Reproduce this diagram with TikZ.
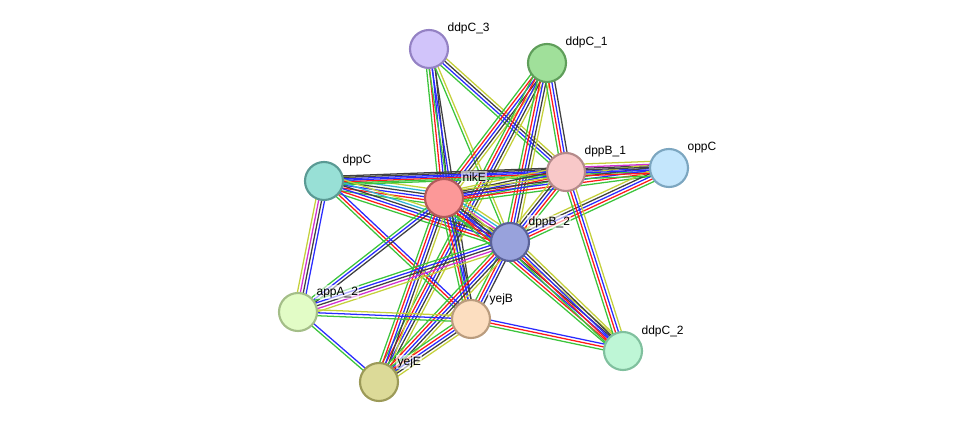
\documentclass[tikz,border=0pt]{standalone}
\usepackage{fontspec}
\setmainfont{Liberation Sans}
\usepackage{tikz}
\usetikzlibrary{calc,backgrounds}
% evidence colours
\definecolor{neigh}{HTML}{3CC43C}
\definecolor{fusion}{HTML}{FF1A1A}
\definecolor{cooc}{HTML}{2A2AFF}
\definecolor{coexp}{HTML}{404040}
\definecolor{exper}{HTML}{D030D0}
\definecolor{dbase}{HTML}{30B4D8}
\definecolor{tmine}{HTML}{C4D03A}
% protein colours
\definecolor{fddpCthree}{HTML}{D1C4FA}\definecolor{bddpCthree}{HTML}{9482C4}
\definecolor{fddpCone}{HTML}{A0E09A}\definecolor{bddpCone}{HTML}{5F9E5A}
\definecolor{fdppC}{HTML}{98E0D6}\definecolor{bdppC}{HTML}{5A9A94}
\definecolor{fnikE}{HTML}{FC9898}\definecolor{bnikE}{HTML}{B25A5A}
\definecolor{fdppBone}{HTML}{F8C8C8}\definecolor{bdppBone}{HTML}{B48A8A}
\definecolor{foppC}{HTML}{C4E6FC}\definecolor{boppC}{HTML}{7CA6C0}
\definecolor{fdppBtwo}{HTML}{98A2DC}\definecolor{bdppBtwo}{HTML}{5A6298}
\definecolor{fappA}{HTML}{E2FCC6}\definecolor{bappA}{HTML}{A4BE88}
\definecolor{fyejB}{HTML}{FCDEC0}\definecolor{byejB}{HTML}{BA9C7E}
\definecolor{fddpCtwo}{HTML}{BEF6D6}\definecolor{bddpCtwo}{HTML}{80C09E}
\definecolor{fyejE}{HTML}{DCDA98}\definecolor{byejE}{HTML}{9C9A58}
\tikzset{
  protnode/.style 2 args={
    circle, draw=#2, fill=#1, line width=1.6pt,
    minimum size=28.5pt, inner sep=0pt
  },
  protlabel/.style={
    anchor=base west, font=\fontsize{9}{10}\selectfont,
    fill=white, fill opacity=0.6, text opacity=1, inner sep=1pt
  },
  evline/.style={draw=#1, line width=0.95pt},
}
% one bundle of parallel evidence lines between two proteins
\newcommand{\evsep}{2.2}
\newcommand{\evidence}[3]{%
  \foreach \c [count=\k] in {#3}{\xdef\nev{\k}}%
  \foreach \c [count=\k] in {#3}{%
    \pgfmathsetmacro\off{(\k-(\nev+1)/2)*\evsep}%
    \draw[evline=\c] ($(#1)!\off pt!90:(#2)$) -- ($(#2)!\off pt!-90:(#1)$);
  }%
}

\begin{document}
\begin{tikzpicture}[x=0.75pt,y=-0.75pt]
\useasboundingbox (0,0) rectangle (976,428);

% proteins
\node[protnode={fddpCthree}{bddpCthree}] (ddpC3) at (429,49) {};
\node[protnode={fddpCone}{bddpCone}] (ddpC1) at (547,63) {};
\node[protnode={fdppC}{bdppC}] (dppC) at (324,181) {};
\node[protnode={fnikE}{bnikE}] (nikE) at (444,198) {};
\node[protnode={fdppBone}{bdppBone}] (dppB1) at (566,172) {};
\node[protnode={foppC}{boppC}] (oppC) at (669,168) {};
\node[protnode={fdppBtwo}{bdppBtwo}] (dppB2) at (510,242) {};
\node[protnode={fappA}{bappA}] (appA2) at (298,312) {};
\node[protnode={fyejB}{byejB}] (yejB) at (471,319) {};
\node[protnode={fddpCtwo}{bddpCtwo}] (ddpC2) at (623,351) {};
\node[protnode={fyejE}{byejE}] (yejE) at (379,382) {};

% names
\node[protlabel] (ddpC3-l) at ($(ddpC3)+(17,-17)$) {ddpC\_3};
\node[protlabel] (ddpC1-l) at ($(ddpC1)+(17,-17)$) {ddpC\_1};
\node[protlabel] (dppC-l) at ($(dppC)+(17,-17)$) {dppC};
\node[protlabel] (nikE-l) at ($(nikE)+(17,-17)$) {nikE};
\node[protlabel] (dppB1-l) at ($(dppB1)+(17,-17)$) {dppB\_1};
\node[protlabel] (oppC-l) at ($(oppC)+(17,-17)$) {oppC};
\node[protlabel] (dppB2-l) at ($(dppB2)+(17,-17)$) {dppB\_2};
\node[protlabel] (appA2-l) at ($(appA2)+(17,-17)$) {appA\_2};
\node[protlabel] (yejB-l) at ($(yejB)+(17,-17)$) {yejB};
\node[protlabel] (ddpC2-l) at ($(ddpC2)+(17,-17)$) {ddpC\_2};
\node[protlabel] (yejE-l) at ($(yejE)+(17,-17)$) {yejE};

\begin{scope}[on background layer]
\evidence{ddpC3}{nikE}{neigh,fusion,cooc,coexp}
\evidence{ddpC3}{yejB}{neigh,cooc,coexp}
\evidence{ddpC3}{dppB2}{neigh,tmine}
\evidence{ddpC3}{dppB1}{neigh,cooc,coexp,tmine}
\evidence{ddpC1}{nikE}{neigh,fusion,cooc,coexp,tmine}
\evidence{ddpC1}{yejE}{neigh,fusion,cooc,coexp,tmine}
\evidence{ddpC1}{dppB2}{neigh,fusion,cooc,coexp,tmine}
\evidence{ddpC1}{dppB1}{neigh,fusion,cooc,coexp}
\evidence{dppC}{nikE}{neigh,fusion,cooc,coexp,dbase,tmine}
\evidence{dppC}{dppB1}{neigh,fusion,cooc,coexp}
\evidence{dppC}{oppC}{neigh,cooc,coexp}
\evidence{dppC}{dppB2}{neigh,fusion,cooc,coexp,dbase,tmine}
\evidence{dppC}{appA2}{tmine,exper,coexp,cooc}
\evidence{dppC}{yejB}{neigh,fusion,cooc}
\evidence{nikE}{dppB2}{neigh,fusion,cooc,coexp,exper,dbase,tmine}
\evidence{nikE}{dppB1}{neigh,fusion,cooc,coexp,tmine}
\evidence{nikE}{oppC}{neigh,fusion,cooc,coexp,tmine}
\evidence{nikE}{appA2}{neigh,cooc,coexp}
\evidence{nikE}{yejB}{neigh,fusion,cooc,coexp}
\evidence{nikE}{yejE}{neigh,fusion,cooc,coexp,tmine}
\evidence{nikE}{ddpC2}{neigh,fusion,cooc,coexp,tmine}
\evidence{dppB2}{dppB1}{neigh,fusion,cooc,coexp,tmine}
\evidence{dppB2}{oppC}{neigh,fusion,cooc,coexp,tmine}
\evidence{dppB2}{appA2}{neigh,cooc,coexp,exper,tmine}
\evidence{dppB2}{yejB}{neigh,fusion,cooc,coexp}
\evidence{dppB2}{yejE}{neigh,fusion,cooc,coexp,tmine}
\evidence{dppB2}{ddpC2}{neigh,fusion,cooc,coexp,tmine}
\evidence{dppB1}{oppC}{neigh,fusion,cooc,coexp,exper,tmine}
\evidence{dppB1}{ddpC2}{neigh,fusion,cooc,tmine}
\evidence{appA2}{yejB}{neigh,cooc,tmine}
\evidence{appA2}{yejE}{neigh,cooc}
\evidence{yejB}{yejE}{neigh,fusion,cooc,coexp,tmine}
\evidence{yejB}{ddpC2}{neigh,fusion,cooc}
\end{scope}
\end{tikzpicture}
\end{document}
